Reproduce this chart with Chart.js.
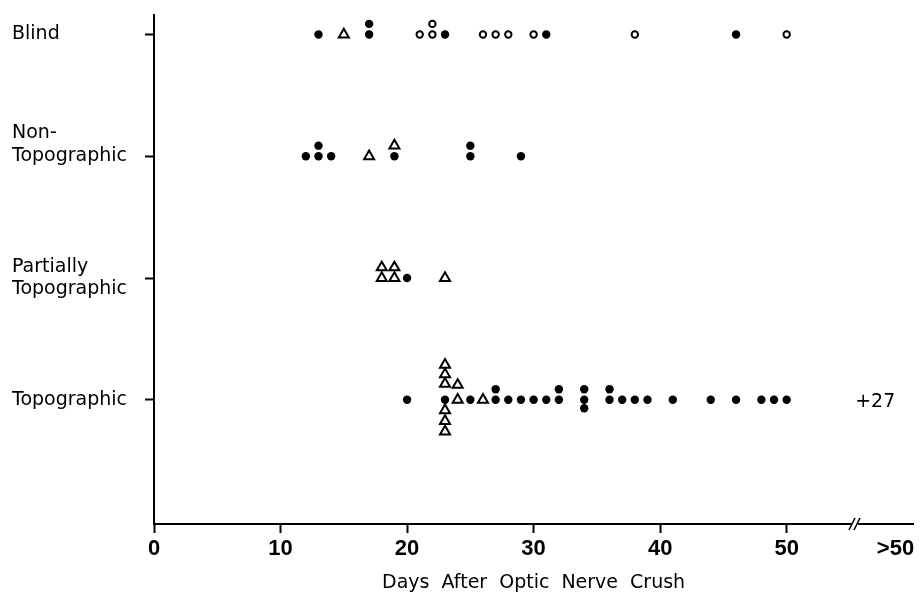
<!DOCTYPE html>
<html>
<head>
<meta charset="utf-8">
<script src="https://cdn.jsdelivr.net/npm/chart.js@4.4.1/dist/chart.umd.min.js"></script>
<style>
  body { margin: 0; background: #fff; }
  canvas { display: block; }
</style>
</head>
<body>
<canvas id="chart" width="921" height="598"></canvas>
<script>
// hàng (từ dưới lên): Topographic = 1, Partially = 2, Non = 3, Blind = 4
const rowLabels = [
    ['Topographic'],
    ['Partially', 'Topographic'],
    ['Non-', 'Topographic', ''],
    ['Blind'],
];

// x tick (ngày) + nhãn
const xTicks = [0, 10, 20, 30, 40, 50, 58.6];
const xTickLabels = ['0', '10', '20', '30', '40', '50', '>50'];

// mỗi điểm: [ngày, tầng chồng lên nhau]
const blindDots = [[13, 0], [17, 0], [17, 1], [23, 0], [31, 0], [46, 0]];
const blindOpen = [[21, 0], [22, 0], [22, 1], [26, 0], [27, 0], [28, 0], [30, 0], [38, 0], [50, 0]];
const blindTri = [[15, 0]];

const nonDots = [[12, 0], [13, 0], [13, 1], [14, 0], [19, 0], [25, 0], [25, 1], [29, 0]];
const nonTri = [[17, 0], [19, 1]];

const partDots = [[20, 0]];
const partTri = [[18, 0], [18, 1], [19, 0], [19, 1], [23, 0]];

const topoDots = [[20, 0], [23, 0], [25, 0], [27, 0], [27, 1], [28, 0], [29, 0], [30, 0], [31, 0],
    [32, 0], [32, 1], [34, -0.8], [34, 0], [34, 1], [36, 0], [36, 1], [37, 0], [38, 0], [39, 0],
    [41, 0], [44, 0], [46, 0], [48, 0], [49, 0], [50, 0]];
const topoTri = [[23, -3], [23, -2], [23, -1], [23, 1.5], [23, 2.4], [23, 3.3], [24, 0], [24, 1.4], [26, 0]];

const topoOverflow = 27;   // số ca > 50 ngày
const overflowX = 57;
const breakAt = 55.4;      // chỗ cắt trục x
const levelStep = 0.087;

function toPoints(row, list) {
    return list.map(p => ({ x: p[0], y: row + p[1] * levelStep }));
}

const dots = [].concat(toPoints(1, topoDots), toPoints(2, partDots), toPoints(3, nonDots), toPoints(4, blindDots));
const opens = toPoints(4, blindOpen);
const tris = [].concat(toPoints(1, topoTri), toPoints(2, partTri), toPoints(3, nonTri), toPoints(4, blindTri));

const labelFont = { family: 'DejaVu Sans', size: 19 };

// vẽ dấu cắt trục và "+27"
const extras = {
    id: 'extras',
    beforeDraw(chart) {
        chart.ctx.wordSpacing = '6px';
    },
    afterDraw(chart) {
        const c = chart.ctx;
        const xs = chart.scales.x, ys = chart.scales.y;
        const bx = xs.getPixelForValue(breakAt);
        const by = chart.chartArea.bottom;
        c.save();
        c.fillStyle = '#fff';
        c.fillRect(bx - 3, by - 3, 6, 6);
        c.strokeStyle = '#000';
        c.lineWidth = 1.6;
        c.beginPath();
        c.moveTo(bx - 6, by + 6); c.lineTo(bx, by - 6);
        c.moveTo(bx - 1, by + 6); c.lineTo(bx + 5, by - 6);
        c.stroke();
        c.fillStyle = '#000';
        c.font = '19px "DejaVu Sans"';
        c.textAlign = 'center';
        c.textBaseline = 'middle';
        c.fillText('+' + topoOverflow, xs.getPixelForValue(overflowX), ys.getPixelForValue(1) + 2);
        c.restore();
    }
};

const ctx = document.getElementById('chart').getContext('2d');
const chart = new Chart(ctx, {
    type: 'scatter',
    data: {
        datasets: [
            {
                data: dots,
                pointStyle: 'circle',
                pointRadius: 4.2,
                backgroundColor: '#000',
                borderColor: '#000',
                borderWidth: 0,
            },
            {
                data: opens,
                pointStyle: 'circle',
                pointRadius: 3.2,
                backgroundColor: '#fff',
                borderColor: '#000',
                borderWidth: 2,
            },
            {
                data: tris,
                pointStyle: 'triangle',
                pointRadius: 5.8,
                backgroundColor: '#fff',
                borderColor: '#000',
                borderWidth: 2,
            },
        ],
    },
    options: {
        responsive: false,
        animation: false,
        devicePixelRatio: 1,
        layout: { padding: { top: 15, left: 12, right: 6, bottom: 0 } },
        plugins: {
            legend: { display: false },
            tooltip: { enabled: false },
        },
        scales: {
            x: {
                type: 'linear',
                min: 0,
                max: 60,
                border: { color: '#000', width: 2 },
                grid: {
                    drawOnChartArea: false,
                    tickLength: 9,
                    tickWidth: 2,
                    tickColor: c => (c.tick && c.tick.value > 50) ? 'rgba(0,0,0,0)' : '#000',
                },
                afterBuildTicks: s => { s.ticks = xTicks.map(v => ({ value: v })); },
                ticks: {
                    autoSkip: false,
                    maxRotation: 0,
                    padding: 3,
                    color: '#000',
                    font: { family: 'Liberation Sans', size: 22, weight: 'bold' },
                    callback: (v, i) => xTickLabels[i],
                },
                title: {
                    display: true,
                    text: 'Days After Optic Nerve Crush',
                    color: '#000',
                    font: labelFont,
                    padding: { top: 4, bottom: 4 },
                },
                afterFit: s => { s.height = 74; },
            },
            y: {
                type: 'linear',
                min: -0.02,
                max: 4.16,
                border: { color: '#000', width: 2 },
                grid: {
                    drawOnChartArea: false,
                    tickLength: 9,
                    tickWidth: 2,
                    tickColor: '#000',
                },
                afterBuildTicks: s => { s.ticks = [1, 2, 3, 4].map(v => ({ value: v })); },
                ticks: {
                    crossAlign: 'far',
                    color: '#000',
                    font: labelFont,
                    callback: v => rowLabels[v - 1],
                },
                afterFit: s => { s.width = 142; },
            },
        },
    },
    plugins: [extras],
});
</script>
</body>
</html>
